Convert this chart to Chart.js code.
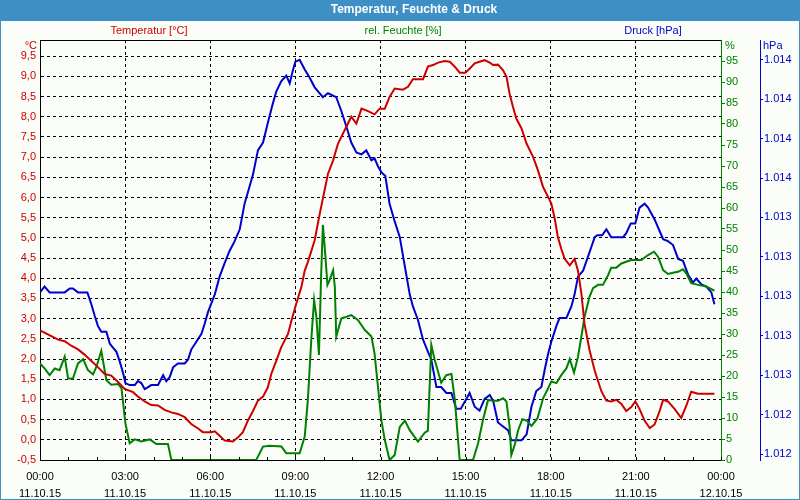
<!DOCTYPE html>
<html>
<head>
<meta charset="utf-8">
<script src="https://cdn.jsdelivr.net/npm/chart.js@4.4.1/dist/chart.umd.min.js"></script>
<style>
  html, body { margin: 0; padding: 0; background: #fbfef8; }
  canvas { display: block; }
</style>
</head>
<body>
<canvas id="wetter" width="800" height="500"></canvas>
<script>
// Zeit in Stunden ab 11.10.15 00:00
const tempTimes = [0,0.40,0.64,0.87,1.10,1.34,1.57,1.81,2.04,2.28,2.51,2.75,2.98,3.28,3.45,3.69,3.92,4.16,4.39,4.63,
  4.86,5.10,5.33,5.57,5.74,6.04,6.16,6.33,6.51,6.80,6.98,7.15,7.33,7.51,7.68,7.86,8.03,8.15,8.33,8.50,
  8.74,8.86,9.03,9.21,9.33,9.44,9.68,9.86,10.03,10.15,10.33,10.50,10.74,10.97,11.15,11.33,11.56,11.79,11.97,12.15,
  12.32,12.50,12.79,12.97,13.14,13.50,13.67,13.85,14.03,14.26,14.44,14.62,14.79,14.99,15.14,15.32,15.49,15.67,15.85,15.97,
  16.14,16.32,16.44,16.55,16.67,16.79,16.97,17.15,17.38,17.55,17.73,17.91,18.02,18.14,18.25,18.37,18.49,18.67,18.84,18.96,
  19.08,19.19,19.37,19.55,19.78,19.96,20.13,20.31,20.49,20.66,20.84,20.98,21.13,21.31,21.49,21.66,21.84,21.96,22.13,22.37,
  22.60,22.78,22.95,23.19,23.77];
const tempValues = [2.71,2.57,2.48,2.44,2.33,2.24,2.11,1.95,1.80,1.63,1.59,1.43,1.26,1.18,1.07,0.95,0.86,0.85,0.74,0.68,
  0.64,0.56,0.39,0.28,0.19,0.19,0.21,0.10,-0.02,-0.04,0.06,0.19,0.48,0.72,0.97,1.07,1.30,1.63,1.96,2.29,
  2.62,2.95,3.37,3.78,4.19,4.40,4.94,5.60,6.18,6.59,6.92,7.33,7.67,8.00,7.83,8.20,8.14,8.06,8.20,8.20,
  8.49,8.70,8.67,8.74,8.93,8.93,9.24,9.28,9.34,9.38,9.36,9.24,9.09,9.09,9.19,9.32,9.36,9.40,9.34,9.28,
  9.29,9.15,8.99,8.57,8.24,7.95,7.71,7.33,7.00,6.67,6.26,6.01,5.85,5.48,5.02,4.73,4.48,4.32,4.48,4.19,
  3.62,2.87,2.21,1.71,1.21,0.97,0.95,0.99,0.89,0.71,0.81,0.95,0.76,0.47,0.29,0.38,0.72,0.99,0.95,0.76,
  0.54,0.85,1.19,1.14,1.14];

const humTimes = [0,0.16,0.34,0.52,0.69,0.87,0.99,1.16,1.34,1.52,1.69,1.87,1.99,2.16,2.34,2.51,2.75,2.87,3.01,3.16,
  3.34,3.57,3.87,4.10,4.51,4.63,7.62,7.86,8.09,8.51,8.68,9.15,9.33,9.44,9.56,9.66,9.74,9.83,9.91,9.97,
  10.05,10.13,10.21,10.33,10.39,10.44,10.62,10.97,11.21,11.44,11.68,11.79,11.91,12.03,12.15,12.32,12.50,12.68,12.86,13.03,
  13.32,13.56,13.67,13.79,13.91,14.14,14.32,14.50,14.62,14.79,15.26,15.44,15.61,15.79,15.97,16.14,16.32,16.44,16.55,16.61,
  16.73,16.85,17.00,17.15,17.32,17.53,17.73,17.91,18.02,18.20,18.37,18.55,18.67,18.82,18.96,19.08,19.19,19.37,19.49,19.67,
  19.84,20.02,20.13,20.31,20.49,20.66,20.84,21.19,21.43,21.64,21.78,21.96,22.13,22.31,22.49,22.66,22.78,22.95,23.19,23.48,
  23.77];
const humValues = [23.0,21.8,20.2,21.8,21.4,24.6,19.4,19.4,23.0,24.0,21.4,20.4,22.2,26.0,19.0,17.9,18.1,17.1,8.7,4.0,
  4.9,4.4,4.9,3.8,3.8,0,0,3.2,3.4,3.2,1.6,1.6,5.6,14.3,28.6,38.1,34.1,25.0,44.4,56.0,
  49.2,41.7,42.9,45.2,41.3,29.4,33.7,34.5,33.3,31.0,29.4,25.4,17.5,9.5,4.8,0,1.2,7.9,9.4,7.1,
  4.4,6.5,7.0,27.4,23.8,18.4,20.2,20.5,14.3,0,0,4.0,9.5,14.3,14.1,14.1,14.7,13.9,7.9,1.2,
  3.6,7.1,9.7,9.4,8.1,9.9,14.7,17.1,18.7,18.3,20.2,21.8,24.0,20.8,24.6,29.4,34.1,38.9,40.9,41.7,
  41.7,44.0,45.8,45.8,46.8,47.2,47.6,47.6,48.8,49.6,48.4,45.2,44.3,44.6,44.8,45.4,44.4,42.1,41.7,41.3,
  40.3];

const pressTimes = [0,0.16,0.34,0.87,1.05,1.16,1.34,1.67,1.81,1.93,2.04,2.16,2.34,2.46,2.57,2.69,2.81,2.93,3.01,3.16,
  3.34,3.45,3.57,3.69,3.81,3.92,4.16,4.34,4.45,4.57,4.69,4.86,5.10,5.22,5.33,5.51,5.69,5.80,5.92,6.16,
  6.33,6.51,6.68,6.86,7.04,7.21,7.39,7.51,7.68,7.86,8.03,8.21,8.33,8.50,8.68,8.80,8.92,9.00,9.15,9.33,
  9.50,9.68,9.97,10.15,10.44,10.62,10.80,10.97,11.15,11.33,11.50,11.68,11.79,11.91,12.03,12.17,12.32,12.50,12.68,12.86,
  13.03,13.14,13.32,13.50,13.67,13.79,13.97,14.14,14.32,14.50,14.67,14.83,14.99,15.14,15.32,15.49,15.67,15.85,15.97,16.14,
  16.32,16.50,16.61,16.97,17.15,17.32,17.49,17.67,17.79,17.91,18.02,18.20,18.31,18.55,18.73,18.84,18.96,19.14,19.31,19.43,
  19.55,19.64,19.81,19.96,20.13,20.55,20.66,20.82,20.98,21.13,21.31,21.43,21.66,21.84,21.96,22.13,22.31,22.49,22.66,22.84,
  23.01,23.13,23.31,23.48,23.66,23.77];
const pressValues = [1013.02,1013.05,1013.02,1013.02,1013.04,1013.04,1013.02,1013.02,1012.96,1012.90,1012.85,1012.82,1012.82,1012.76,1012.74,1012.72,1012.67,1012.61,1012.56,1012.55,
  1012.55,1012.57,1012.56,1012.53,1012.54,1012.55,1012.55,1012.60,1012.57,1012.59,1012.64,1012.66,1012.66,1012.68,1012.73,1012.77,1012.81,1012.86,1012.92,1013.01,
  1013.10,1013.17,1013.23,1013.28,1013.34,1013.47,1013.56,1013.62,1013.74,1013.78,1013.88,1013.98,1014.04,1014.09,1014.12,1014.08,1014.15,1014.19,1014.20,1014.15,
  1014.11,1014.06,1014.01,1014.03,1014.01,1013.94,1013.86,1013.78,1013.73,1013.72,1013.74,1013.69,1013.70,1013.66,1013.63,1013.61,1013.47,1013.38,1013.30,1013.15,
  1013.01,1012.95,1012.88,1012.78,1012.72,1012.68,1012.54,1012.54,1012.51,1012.51,1012.43,1012.43,1012.47,1012.51,1012.44,1012.42,1012.48,1012.50,1012.47,1012.36,
  1012.34,1012.32,1012.27,1012.27,1012.30,1012.44,1012.52,1012.54,1012.63,1012.71,1012.77,1012.85,1012.89,1012.89,1012.95,1013.01,1013.10,1013.13,1013.20,1013.25,
  1013.30,1013.31,1013.31,1013.34,1013.30,1013.30,1013.32,1013.37,1013.37,1013.45,1013.47,1013.45,1013.39,1013.33,1013.29,1013.28,1013.26,1013.19,1013.18,1013.11,
  1013.07,1013.09,1013.06,1013.05,1013.02,1012.96];

// Achsenbeschriftungen
const timeTicks = [0, 3, 6, 9, 12, 15, 18, 21, 24];
const timeLabels = [['00:00','11.10.15'],['03:00','11.10.15'],['06:00','11.10.15'],['09:00','11.10.15'],['12:00','11.10.15'],
  ['15:00','11.10.15'],['18:00','11.10.15'],['21:00','11.10.15'],['00:00','12.10.15']];
const tempTicks = [-0.5,0,0.5,1,1.5,2,2.5,3,3.5,4,4.5,5,5.5,6,6.5,7,7.5,8,8.5,9,9.5];
const humTicks = [0,5,10,15,20,25,30,35,40,45,50,55,60,65,70,75,80,85,90,95];
const pressTicks = [1012.2,1012.4,1012.6,1012.8,1013.0,1013.2,1013.4,1013.6,1013.8,1014.0,1014.2];

const chartTitle = 'Temperatur, Feuchte & Druck';
const seriesNames = ['Temperatur [°C]', 'rel. Feuchte [%]', 'Druck [hPa]'];

const ROT = '#cc0000', GRUEN = '#008000', BLAU = '#0000cc';
const FONT = '"Liberation Sans", Arial, sans-serif';

function toPoints(xs, ys) {
    return xs.map((x, i) => ({ x: x, y: ys[i] }));
}

const rahmen = {
    id: 'rahmen',
    beforeDraw(chart) {
        const { ctx, width, height } = chart;
        ctx.save();
        ctx.fillStyle = '#fbfef8';
        ctx.fillRect(0, 0, width, height);
        ctx.fillStyle = '#3d8fc6';
        ctx.fillRect(0, 0, width, 21);
        ctx.strokeStyle = '#3d8fc6';
        ctx.lineWidth = 1;
        ctx.strokeRect(0.5, 0.5, width - 1, height - 1);
        ctx.restore();
    },
    afterDraw(chart) {
        const { ctx, chartArea } = chart;
        const xs = chart.scales.x;
        ctx.save();
        ctx.strokeStyle = '#000';
        ctx.lineWidth = 1;
        // obere Linie
        ctx.beginPath();
        ctx.moveTo(chartArea.left, chartArea.top + 0.5);
        ctx.lineTo(chartArea.right, chartArea.top + 0.5);
        ctx.stroke();
        // Stundenstriche
        for (let h = 0; h <= 24; h++) {
            const px = Math.round(xs.getPixelForValue(h)) + 0.5;
            ctx.beginPath();
            ctx.moveTo(px, chartArea.bottom);
            ctx.lineTo(px, chartArea.bottom - 3);
            ctx.stroke();
        }
        // Titel
        ctx.fillStyle = '#ffffff';
        ctx.font = 'bold 12px ' + FONT;
        ctx.textAlign = 'center';
        ctx.textBaseline = 'middle';
        ctx.fillText(chartTitle, 414, 10);
        // Reihen
        ctx.font = '11px ' + FONT;
        ctx.fillStyle = ROT;
        ctx.fillText(seriesNames[0], 149, 31);
        ctx.fillStyle = GRUEN;
        ctx.fillText(seriesNames[1], 403, 31);
        ctx.fillStyle = BLAU;
        ctx.fillText(seriesNames[2], 653, 31);
        // Einheiten
        ctx.textAlign = 'right';
        ctx.fillStyle = ROT;
        ctx.fillText('°C', 37, 46);
        ctx.textAlign = 'left';
        ctx.fillStyle = GRUEN;
        ctx.fillText('%', 725, 46);
        ctx.fillStyle = BLAU;
        ctx.fillText('hPa', 763, 46);
        ctx.restore();
    }
};

new Chart(document.getElementById('wetter'), {
    type: 'line',
    data: {
        datasets: [
            { label: seriesNames[0], data: toPoints(tempTimes, tempValues), yAxisID: 'yTemp',
              borderColor: ROT, borderWidth: 2, pointRadius: 0, tension: 0 },
            { label: seriesNames[1], data: toPoints(humTimes, humValues), yAxisID: 'yHum',
              borderColor: GRUEN, borderWidth: 2, pointRadius: 0, tension: 0 },
            { label: seriesNames[2], data: toPoints(pressTimes, pressValues), yAxisID: 'yPress',
              borderColor: BLAU, borderWidth: 2, pointRadius: 0, tension: 0 }
        ]
    },
    options: {
        responsive: false,
        animation: false,
        devicePixelRatio: 1,
        layout: { padding: { top: 40, left: 0, right: 0, bottom: 0 } },
        plugins: { legend: { display: false }, tooltip: { enabled: false }, title: { display: false } },
        scales: {
            x: {
                type: 'linear', min: 0, max: 24,
                afterBuildTicks: (s) => { s.ticks = []; for (let h = 0; h <= 24; h++) s.ticks.push({ value: h }); },
                afterFit: (s) => { s.height = 40; },
                ticks: {
                    autoSkip: false, maxRotation: 0, padding: 8, color: '#000',
                    font: { family: FONT, size: 11, lineHeight: 1.55 },
                    callback: (v) => { const i = timeTicks.indexOf(v); return i >= 0 ? timeLabels[i] : ''; }
                },
                grid: {
                    drawTicks: false,
                    color: (c) => (c.tick && c.tick.value % 3 === 0) ? '#000' : 'rgba(0,0,0,0)'
                },
                border: { color: '#000', width: 1, dash: [3, 3] }
            },
            yTemp: {
                position: 'left', min: -0.5, max: 9.9,
                afterBuildTicks: (s) => { s.ticks = tempTicks.map(v => ({ value: v })); },
                afterFit: (s) => { s.width = 40; },
                ticks: { color: ROT, padding: 4, font: { family: FONT, size: 11 },
                         callback: (v) => v.toFixed(1).replace('.', ',') },
                grid: { drawTicks: false, color: '#000' },
                border: { color: '#000', width: 1, dash: [3, 3] }
            },
            yHum: {
                position: 'right', weight: 0, min: 0, max: 100,
                afterBuildTicks: (s) => { s.ticks = humTicks.map(v => ({ value: v })); },
                afterFit: (s) => { s.width = 39; },
                ticks: { color: GRUEN, padding: 1, font: { family: FONT, size: 11 } },
                grid: { drawOnChartArea: false, drawTicks: true, tickLength: 4, color: GRUEN, tickColor: GRUEN },
                border: { color: GRUEN, width: 1 }
            },
            yPress: {
                position: 'right', weight: 1, min: 1012.17, max: 1014.3,
                afterBuildTicks: (s) => { s.ticks = pressTicks.map(v => ({ value: v })); },
                afterFit: (s) => { s.width = 40; },
                ticks: { color: BLAU, padding: 1, font: { family: FONT, size: 11 },
                         callback: (v) => (Math.round(v) / 1000).toFixed(3) },
                grid: { drawOnChartArea: false, drawTicks: true, tickLength: 3, color: BLAU, tickColor: BLAU },
                border: { color: BLAU, width: 1 }
            }
        }
    },
    plugins: [rahmen]
});
</script>
</body>
</html>
